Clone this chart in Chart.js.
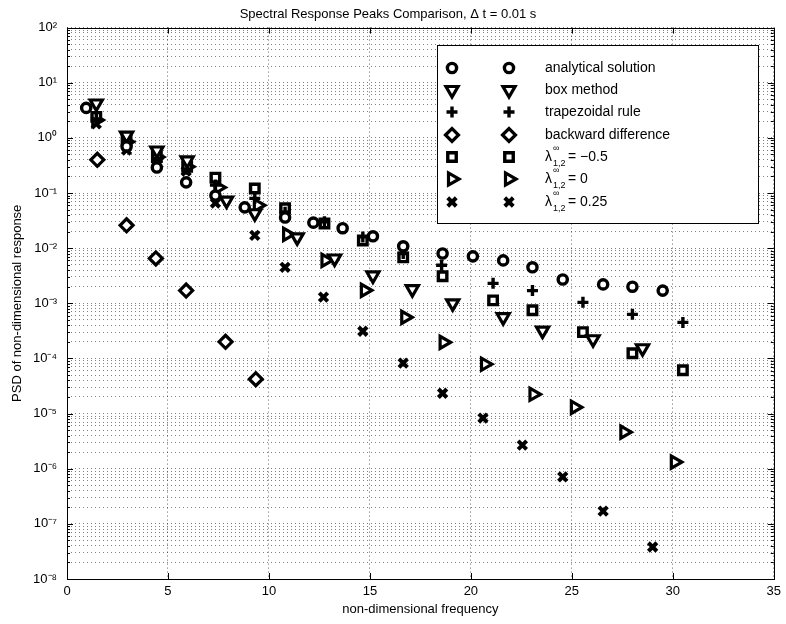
<!DOCTYPE html>
<html>
<head>
<meta charset="utf-8">
<script src="https://cdn.jsdelivr.net/npm/chart.js@4.4.0/dist/chart.umd.min.js"></script>
<style>
  html, body { margin: 0; padding: 0; background: #fff; }
</style>
</head>
<body>
<canvas id="myChart" width="786" height="624"></canvas>
<script>
// values
const analyticalFreq = [0.95, 2.95, 4.45, 5.9, 7.35, 8.8, 10.8, 12.2, 13.65, 15.15, 16.65, 18.6, 20.1, 21.6, 23.05, 24.55, 26.55, 28.0, 29.5];
const analyticalPsd = [3.5, 0.7, 0.29, 0.156, 0.09, 0.055, 0.036, 0.029, 0.023, 0.0164, 0.0108, 0.008, 0.0071, 0.006, 0.0045, 0.0027, 0.0022, 0.002, 0.0017];

const boxFreq = [1.45, 2.95, 4.45, 5.95, 7.9, 9.3, 11.4, 13.25, 15.15, 17.1, 19.1, 21.6, 23.55, 26.05, 28.5];
const boxPsd = [4.2, 1.1, 0.59, 0.39, 0.073, 0.043, 0.0157, 0.0065, 0.0032, 0.0018, 0.001, 0.00056, 0.00032, 0.000223, 0.000153];

const trapFreq = [1.45, 2.95, 4.45, 5.95, 7.35, 9.3, 10.8, 12.75, 14.65, 16.65, 18.55, 21.1, 23.05, 25.55, 28.0, 30.5];
const trapPsd = [2.2, 0.8, 0.42, 0.27, 0.14, 0.08, 0.045, 0.03, 0.016, 0.008, 0.0049, 0.0023, 0.0017, 0.00104, 0.00063, 0.00045];

const backFreq = [1.5, 2.95, 4.4, 5.9, 7.85, 9.35];
const backPsd = [0.4, 0.026, 0.0065, 0.0017, 0.0002, 0.000042];

const lamNegFreq = [1.45, 2.95, 4.45, 5.95, 7.35, 9.3, 10.8, 12.75, 14.65, 16.65, 18.6, 21.1, 23.05, 25.55, 28.0, 30.5];
const lamNegPsd = [2.4, 0.9, 0.45, 0.3, 0.19, 0.121, 0.053, 0.028, 0.0138, 0.0068, 0.0031, 0.00113, 0.00075, 0.0003, 0.000124, 0.000061];

const lamZeroFreq = [1.45, 2.95, 4.45, 5.95, 7.5, 9.45, 10.9, 12.8, 14.75, 16.75, 18.65, 20.7, 23.1, 25.15, 27.6, 30.1];
const lamZeroPsd = [2.1, 0.85, 0.45, 0.3, 0.126, 0.06, 0.0178, 0.006, 0.00172, 0.000557, 0.000196, 0.0000785, 0.0000224, 0.000013, 0.0000046, 0.00000132];

const lamQuarterFreq = [1.45, 2.95, 4.45, 5.9, 7.35, 9.3, 10.8, 12.7, 14.65, 16.65, 18.6, 20.6, 22.55, 24.55, 26.55, 29.0];
const lamQuarterPsd = [1.8, 0.6, 0.42, 0.25, 0.066, 0.017, 0.0045, 0.00129, 0.000311, 0.000082, 0.0000234, 0.0000083, 0.00000268, 0.00000071, 0.00000017, 0.000000038];

const xTicks = [0, 5, 10, 15, 20, 25, 30, 35];
const yDecades = [-8, -7, -6, -5, -4, -3, -2, -1, 0, 1, 2];

const FONT = "'Liberation Sans', Arial, Helvetica, sans-serif";
const SUP = { "-": "\u207B", "0": "\u2070", "1": "\u00B9", "2": "\u00B2", "3": "\u00B3", "4": "\u2074", "5": "\u2075", "6": "\u2076", "7": "\u2077", "8": "\u2078", "9": "\u2079" };
function supStr(n) {
  return String(n).split("").map((c) => SUP[c]).join("");
}

function pts(xs, ys) {
  return xs.map((x, i) => ({ x: x, y: ys[i] }));
}

// marker looks, shared by the plot and the legend
const styles = [
  { label: "analytical solution", pointStyle: "circle", radius: 4.6, rotation: 0, width: 3.4, data: pts(analyticalFreq, analyticalPsd) },
  { label: "box method", pointStyle: "triangle", radius: 7, rotation: 180, width: 3.2, data: pts(boxFreq, boxPsd) },
  { label: "trapezoidal rule", pointStyle: "cross", radius: 5.5, rotation: 0, width: 3.4, data: pts(trapFreq, trapPsd) },
  { label: "backward difference", pointStyle: "rectRot", radius: 6.5, rotation: 0, width: 3.2, data: pts(backFreq, backPsd) },
  { label: "lambda -0.5", lam: "= \u22120.5", pointStyle: "rect", radius: 6, rotation: 0, width: 3.4, data: pts(lamNegFreq, lamNegPsd) },
  { label: "lambda 0", lam: "= 0", pointStyle: "triangle", radius: 7, rotation: 90, width: 3.2, data: pts(lamZeroFreq, lamZeroPsd) },
  { label: "lambda 0.25", lam: "= 0.25", pointStyle: "crossRot", radius: 6, rotation: 0, width: 4, data: pts(lamQuarterFreq, lamQuarterPsd) },
];

const framePlugin = {
  id: "frame",
  afterDatasetsDraw(chart) {
    const ctx = chart.ctx;
    const a = chart.chartArea;
    const xs = chart.scales.x;
    const ys = chart.scales.y;
    ctx.save();
    ctx.strokeStyle = "#000";
    ctx.lineWidth = 1;
    ctx.strokeRect(Math.round(a.left) + 0.5, Math.round(a.top) + 0.5, Math.round(a.right - a.left), Math.round(a.bottom - a.top));
    ctx.beginPath();
    xTicks.forEach((t) => {
      const px = Math.round(xs.getPixelForValue(t)) + 0.5;
      ctx.moveTo(px, a.bottom); ctx.lineTo(px, a.bottom - 6);
      ctx.moveTo(px, a.top); ctx.lineTo(px, a.top + 6);
    });
    yDecades.forEach((e) => {
      for (let m = 1; m <= 9; m++) {
        if (e === 2 && m > 1) break;
        const py = Math.round(ys.getPixelForValue(m * Math.pow(10, e))) + 0.5;
        const len = m === 1 ? 6 : 3;
        ctx.moveTo(a.left, py); ctx.lineTo(a.left + len, py);
        ctx.moveTo(a.right, py); ctx.lineTo(a.right - len, py);
      }
    });
    ctx.stroke();

    // legend
    const box = { left: 437, top: 45, right: 758, bottom: 223 };
    ctx.fillStyle = "#fff";
    ctx.fillRect(box.left, box.top, box.right - box.left, box.bottom - box.top);
    ctx.strokeRect(box.left + 0.5, box.top + 0.5, box.right - box.left, box.bottom - box.top);
    const rowY = [68, 90, 112, 135, 157, 179, 202];
    styles.forEach((s, i) => {
      const y = rowY[i];
      ctx.strokeStyle = "#000";
      ctx.fillStyle = "#fff";
      ctx.lineWidth = s.width;
      [452, 509].forEach((x) => {
        Chart.helpers.drawPoint(ctx, { pointStyle: s.pointStyle, radius: s.radius, rotation: s.rotation, borderWidth: s.width }, x, y);
      });
      ctx.fillStyle = "#000";
      ctx.textBaseline = "middle";
      ctx.textAlign = "left";
      ctx.font = "14px " + FONT;
      if (!s.lam) {
        ctx.fillText(s.label, 545, y);
      } else {
        ctx.fillText("\u03BB", 545, y);
        ctx.font = "9px " + FONT;
        ctx.fillText("\u221E", 553, y - 8);
        ctx.fillText("1,2", 553, y + 7);
        ctx.font = "14px " + FONT;
        ctx.fillText(s.lam, 568, y);
      }
    });
    ctx.restore();
  },
};

const ctx = document.getElementById("myChart");
const myChart = new Chart(ctx, {
  type: "scatter",
  data: {
    datasets: styles.map((s) => ({
      label: s.label,
      data: s.data,
      showLine: false,
      pointStyle: s.pointStyle,
      pointRadius: s.radius,
      pointRotation: s.rotation,
      pointBorderWidth: s.width,
      pointBorderColor: "#000",
      pointBackgroundColor: "#fff",
      pointHoverRadius: s.radius,
    })),
  },
  options: {
    responsive: false,
    animation: false,
    layout: { padding: { top: 0, right: 10, left: 0, bottom: 0 } },
    plugins: {
      legend: { display: false },
      tooltip: { enabled: false },
      title: {
        display: true,
        text: "Spectral Response Peaks Comparison, \u0394 t = 0.01 s",
        color: "#000",
        font: { family: FONT, size: 13, weight: "normal" },
        padding: { top: 7, bottom: 5 },
      },
    },
    scales: {
      x: {
        type: "linear",
        min: 0,
        max: 35,
        afterBuildTicks(s) { s.ticks = xTicks.map((v) => ({ value: v })); },
        ticks: { color: "#000", font: { family: FONT, size: 13 }, padding: 5, maxRotation: 0 },
        grid: { color: "rgba(0,0,0,0.6)", lineWidth: 1, drawTicks: false },
        border: { display: false, dash: [1, 3] },
        title: { display: true, text: "non-dimensional frequency", color: "#000", font: { family: FONT, size: 13 }, padding: { top: 0, bottom: 7 } },
        afterFit(s) { s.height = 45; },
      },
      y: {
        type: "logarithmic",
        min: 1e-8,
        max: 1e2,
        afterBuildTicks(s) {
          const t = [];
          yDecades.forEach((e) => {
            for (let m = 1; m <= 9; m++) {
              if (e === 2 && m > 1) break;
              t.push({ value: m * Math.pow(10, e) });
            }
          });
          s.ticks = t;
        },
        ticks: {
          autoSkip: false,
          color: "#000",
          font: { family: FONT, size: 13 },
          padding: 10,
          callback(v) {
            const e = Math.round(Math.log10(v));
            if (Math.abs(v / Math.pow(10, e) - 1) < 1e-6) return "10" + supStr(e);
            return "";
          },
        },
        grid: { color: "rgba(0,0,0,0.5)", lineWidth: 1, drawTicks: false },
        border: { display: false, dash: [1, 3] },
        title: { display: true, text: "PSD of non-dimensional response", color: "#000", font: { family: FONT, size: 13 }, padding: { top: 10, bottom: 0 } },
        afterFit(s) { s.width = 67; },
      },
    },
  },
  plugins: [framePlugin],
});
</script>
</body>
</html>
